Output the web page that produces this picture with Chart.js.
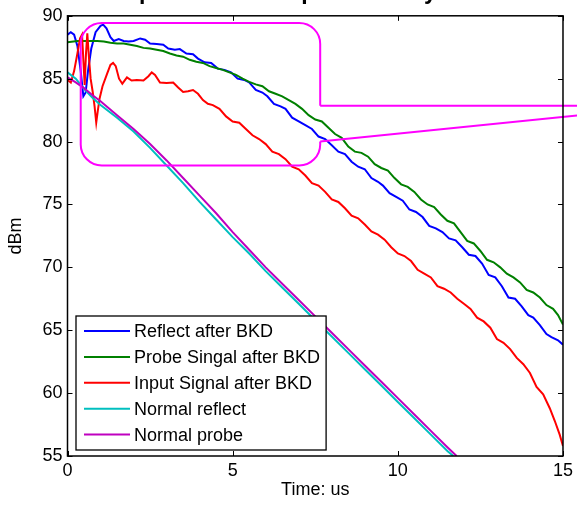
<!DOCTYPE html>
<html><head><meta charset="utf-8">
<script src="https://cdn.jsdelivr.net/npm/chart.js@4"></script>
<style>html,body{margin:0;padding:0;background:#fff;}</style>
</head><body>
<canvas id="c" width="577" height="505"></canvas>
<script>
const titleText = "Compared with the probe decay time";
const xTitle = "Time: us";
const yTitle = "dBm";
const xTicks = [0, 5, 10, 15];
const yTicks = [55, 60, 65, 70, 75, 80, 85, 90];
const seriesLabels = ["Reflect after BKD", "Probe Singal after BKD", "Input Signal after BKD", "Normal reflect", "Normal probe"];
const seriesColors = ["#0000ff", "#008000", "#ff0000", "#00bfbf", "#bf00bf"];

const reflectBKD = [[0,88.5],[0.1,88.7],[0.2,88.5],[0.3,87.6],[0.4,85.6],[0.48,83.6],[0.55,83.9],[0.62,85.6],[0.72,87.4],[0.85,88.7],[1.0,89.2],[1.08,89.3],[1.18,89.0],[1.3,88.3],[1.4,88.0],[1.55,88.15],[1.7,88.0],[1.85,87.95],[2.0,88.0],[2.2,88.2],[2.35,88.1],[2.5,87.8],[2.7,87.75],[2.9,87.7],[3.05,87.4],[3.25,87.3],[3.4,87.35],[3.6,87.0],[3.8,86.95],[3.95,86.6],[4.15,86.3],[4.35,86.25],[4.55,85.8],[4.75,85.7],[4.95,85.5],[5.15,85.0],[5.35,84.9],[5.5,84.7],[5.7,84.1],[5.9,83.9],[6.05,83.6],[6.25,83.0],[6.45,82.8],[6.6,82.6],[6.8,81.9],[7.0,81.6],[7.2,81.3],[7.4,81.0],[7.6,80.4],[7.8,80.2],[8.0,79.7],[8.2,79.2],[8.4,79.0],[8.6,78.4],[8.8,78.0],[9.0,77.8],[9.2,77.1],[9.4,76.8],[9.55,76.5],[9.75,75.9],[9.95,75.6],[10.15,75.3],[10.35,74.6],[10.55,74.4],[10.75,74.0],[10.95,73.3],[11.15,73.1],[11.35,72.8],[11.55,72.3],[11.75,72.15],[11.95,71.6],[12.15,71.0],[12.35,70.9],[12.55,70.3],[12.75,69.4],[12.95,69.2],[13.15,68.5],[13.35,67.6],[13.55,67.5],[13.75,66.9],[13.95,66.2],[14.1,66.0],[14.3,65.4],[14.5,64.7],[14.65,64.45],[14.85,64.2],[15,63.85]];

const probeBKD = [[0,87.9],[0.3,88.0],[0.6,88.0],[0.9,88.0],[1.1,87.95],[1.3,87.85],[1.5,87.8],[1.7,87.8],[1.9,87.7],[2.1,87.6],[2.3,87.45],[2.5,87.4],[2.7,87.3],[2.9,87.2],[3.1,87.0],[3.3,86.85],[3.5,86.75],[3.7,86.5],[3.9,86.35],[4.1,86.25],[4.3,86.0],[4.5,85.85],[4.7,85.7],[4.9,85.5],[5.1,85.3],[5.3,85.0],[5.5,84.75],[5.7,84.55],[5.9,84.4],[6.1,84.0],[6.3,83.8],[6.5,83.6],[6.7,83.3],[6.9,83.0],[7.1,82.6],[7.3,82.1],[7.5,81.75],[7.7,81.6],[7.9,81.1],[8.1,80.6],[8.3,80.3],[8.5,79.6],[8.7,79.2],[8.9,79.1],[9.1,78.8],[9.3,78.2],[9.5,77.9],[9.7,77.7],[9.9,77.1],[10.1,76.6],[10.3,76.4],[10.5,76.0],[10.7,75.4],[10.9,75.0],[11.1,74.8],[11.3,74.2],[11.5,73.7],[11.7,73.5],[11.9,72.8],[12.1,72.1],[12.3,71.9],[12.5,71.3],[12.7,70.6],[12.9,70.4],[13.1,70.0],[13.3,69.5],[13.5,69.2],[13.7,68.8],[13.9,68.2],[14.1,68.0],[14.3,67.6],[14.5,67.0],[14.7,66.7],[14.85,66.2],[15,65.45]];

const inputBKD = [[0,84.9],[0.1,84.7],[0.2,85.6],[0.3,87.0],[0.38,88.2],[0.44,88.5],[0.49,86.0],[0.52,84.5],[0.56,87.0],[0.6,88.6],[0.64,87.0],[0.7,85.0],[0.76,84.0],[0.82,82.8],[0.87,81.5],[0.92,82.5],[0.97,83.4],[1.06,84.4],[1.2,85.4],[1.3,86.1],[1.38,86.25],[1.46,86.0],[1.56,85.0],[1.66,84.6],[1.8,85.1],[1.94,84.85],[2.1,84.9],[2.3,84.85],[2.45,85.2],[2.55,85.5],[2.65,85.3],[2.8,84.7],[3.0,84.65],[3.2,84.7],[3.35,84.3],[3.5,83.95],[3.65,84.0],[3.8,84.1],[3.95,83.8],[4.1,83.3],[4.25,83.0],[4.4,82.9],[4.6,82.6],[4.8,82.0],[5.0,81.6],[5.2,81.5],[5.4,81.0],[5.6,80.5],[5.8,80.2],[6.0,79.8],[6.2,79.2],[6.4,79.0],[6.6,78.6],[6.8,78.0],[7.0,77.8],[7.2,77.3],[7.4,76.7],[7.6,76.5],[7.8,76.0],[8.0,75.4],[8.2,75.2],[8.4,74.7],[8.6,74.1],[8.8,73.9],[9.0,73.4],[9.2,72.85],[9.4,72.6],[9.6,72.2],[9.8,71.6],[10.0,71.1],[10.2,70.9],[10.4,70.5],[10.6,69.8],[10.8,69.5],[11.0,69.2],[11.2,68.5],[11.4,68.3],[11.6,68.0],[11.8,67.5],[12.0,67.1],[12.2,66.7],[12.4,66.0],[12.6,65.7],[12.8,65.2],[13.0,64.3],[13.2,64.0],[13.4,63.5],[13.6,62.8],[13.8,62.3],[14.0,61.6],[14.2,60.5],[14.4,59.9],[14.6,58.8],[14.75,57.8],[14.9,56.7],[15,55.8]];

const normalReflect = [[0,85.5],[0.25,85.0],[0.5,84.2],[0.75,83.5],[1.0,82.9],[1.5,81.9],[2.0,80.8],[2.5,79.5],[3.0,78.1],[3.5,76.7],[4.0,75.2],[4.5,73.8],[5.0,72.4],[5.5,71.1],[6.0,69.7],[6.5,68.4],[7.0,67.1],[7.5,65.8],[8.0,64.5],[8.5,63.2],[9.0,61.9],[9.5,60.6],[10.0,59.3],[10.5,58.0],[11.0,56.7],[11.5,55.4],[11.68,55.0]];

const normalProbe = [[0,85.1],[0.25,84.7],[0.5,84.25],[0.75,83.7],[1.0,83.2],[1.5,82.1],[2.0,81.0],[2.5,79.8],[3.0,78.5],[3.5,77.1],[4.0,75.7],[4.5,74.3],[5.0,72.8],[5.5,71.4],[6.0,70.0],[6.5,68.7],[7.0,67.4],[7.5,66.1],[8.0,64.8],[8.5,63.5],[9.0,62.2],[9.5,60.9],[10.0,59.6],[10.5,58.3],[11.0,57.0],[11.5,55.7],[11.78,55.0]];

// callout annotation, in data units (time, dBm)
const calloutBox = { x0: 0.4, x1: 7.65, y0: 78.1, y1: 89.43 };
const calloutLine1 = [[7.65, 82.84], [15.5, 82.84]];
const calloutLine2 = [[7.65, 80.0], [15.5, 82.1]];

const FONT = "'Liberation Sans', Arial, Helvetica, sans-serif";
const allSeries = [reflectBKD, probeBKD, inputBKD, normalReflect, normalProbe];

const datasets = allSeries.map((s, i) => ({
  label: seriesLabels[i],
  data: s.map(p => ({ x: p[0], y: p[1] })),
  borderColor: seriesColors[i],
  backgroundColor: seriesColors[i],
  borderWidth: 2,
  pointRadius: 0,
  tension: 0,
  fill: false,
  order: allSeries.length - i
}));

const framePlugin = {
  id: 'frame',
  beforeDraw(chart) {
    const ctx = chart.ctx;
    ctx.save();
    ctx.fillStyle = '#fff';
    ctx.fillRect(0, 0, chart.width, chart.height);
    ctx.restore();
  },
  afterDatasetsDraw(chart) {
    const ctx = chart.ctx;
    const a = chart.chartArea;
    ctx.save();
    ctx.font = "18px " + FONT;
    let maxW = 0;
    chart.data.datasets.forEach(d => { maxW = Math.max(maxW, ctx.measureText(d.label).width); });
    const bx = a.left + 8.5, rowH = 25.9;
    const bw = 58 + maxW + 6;
    const bh = 134;
    const by = a.bottom - 6 - bh;
    ctx.fillStyle = '#fff';
    ctx.fillRect(bx, by, bw, bh);
    ctx.strokeStyle = '#000';
    ctx.lineWidth = 1.3;
    ctx.strokeRect(bx, by, bw, bh);
    chart.data.datasets.forEach((d, i) => {
      const cy = by + 15 + i * rowH;
      ctx.strokeStyle = d.borderColor;
      ctx.lineWidth = 2;
      ctx.beginPath();
      ctx.moveTo(bx + 8, cy);
      ctx.lineTo(bx + 54, cy);
      ctx.stroke();
      ctx.fillStyle = '#000';
      ctx.textBaseline = 'middle';
      ctx.textAlign = 'left';
      ctx.fillText(d.label, bx + 58, cy + 1);
    });
    ctx.restore();
  },
  afterDraw(chart) {
    const ctx = chart.ctx;
    const a = chart.chartArea;
    const xs = chart.scales.x, ys = chart.scales.y;
    ctx.save();
    const L = xs.getPixelForValue(calloutBox.x0), R = xs.getPixelForValue(calloutBox.x1);
    const T = ys.getPixelForValue(calloutBox.y1), B = ys.getPixelForValue(calloutBox.y0);
    const r = 21;
    const l1y = ys.getPixelForValue(calloutLine1[0][1]);
    const l2y = ys.getPixelForValue(calloutLine2[0][1]);
    ctx.strokeStyle = '#ff00ff';
    ctx.lineWidth = 2;
    ctx.beginPath();
    ctx.moveTo(R, l1y);
    ctx.lineTo(R, T + r);
    ctx.arcTo(R, T, R - r, T, r);
    ctx.lineTo(L + r, T);
    ctx.arcTo(L, T, L, T + r, r);
    ctx.lineTo(L, B - r);
    ctx.arcTo(L, B, L + r, B, r);
    ctx.lineTo(R - r, B);
    ctx.arcTo(R, B, R, B - r, r);
    ctx.lineTo(R, l2y);
    ctx.stroke();
    ctx.beginPath();
    ctx.moveTo(xs.getPixelForValue(calloutLine1[0][0]), l1y);
    ctx.lineTo(xs.getPixelForValue(calloutLine1[1][0]), ys.getPixelForValue(calloutLine1[1][1]));
    ctx.moveTo(xs.getPixelForValue(calloutLine2[0][0]), l2y);
    ctx.lineTo(xs.getPixelForValue(calloutLine2[1][0]), ys.getPixelForValue(calloutLine2[1][1]));
    ctx.stroke();
    ctx.strokeStyle = '#000';
    ctx.lineWidth = 1.5;
    ctx.strokeRect(a.left, a.top, a.right - a.left, a.bottom - a.top);
    ctx.lineWidth = 1;
    const tl = 5;
    ctx.beginPath();
    xTicks.forEach(v => {
      const px = Math.round(xs.getPixelForValue(v)) + 0.5;
      ctx.moveTo(px, a.bottom); ctx.lineTo(px, a.bottom - tl);
      ctx.moveTo(px, a.top); ctx.lineTo(px, a.top + tl);
    });
    yTicks.forEach(v => {
      const py = Math.round(ys.getPixelForValue(v)) + 0.5;
      ctx.moveTo(a.left, py); ctx.lineTo(a.left + tl, py);
      ctx.moveTo(a.right, py); ctx.lineTo(a.right - tl, py);
    });
    ctx.stroke();
    // title, cropped at the top edge as in the reference: only descenders show
    ctx.fillStyle = '#000';
    ctx.font = "bold 23px " + FONT;
    ctx.textAlign = 'left';
    ctx.textBaseline = 'alphabetic';
    const pre = ctx.measureText("Com").width;
    ctx.fillText(titleText, 139 - pre, -1);
    ctx.restore();
  }
};

new Chart(document.getElementById('c'), {
  type: 'line',
  data: { datasets },
  options: {
    responsive: false,
    animation: false,
    devicePixelRatio: 1,
    layout: { padding: { left: 0, right: 12, top: 12, bottom: 0 } },
    plugins: { legend: { display: false }, tooltip: { enabled: false }, title: { display: false } },
    scales: {
      x: {
        type: 'linear', min: 0, max: 15,
        afterBuildTicks: s => { s.ticks = xTicks.map(v => ({ value: v })); },
        afterFit: s => { s.height = 49; },
        grid: { display: false, drawTicks: false },
        border: { display: false },
        ticks: { color: '#000', padding: 4, maxRotation: 0, autoSkip: false, font: { family: FONT, size: 18 } },
        title: { display: true, text: xTitle, color: '#000', font: { family: FONT, size: 18 }, padding: { top: 0, bottom: 4 } }
      },
      y: {
        type: 'linear', min: 55, max: 90,
        afterBuildTicks: s => { s.ticks = yTicks.map(v => ({ value: v })); },
        afterFit: s => { s.width = 67.5; },
        grid: { display: false, drawTicks: false },
        border: { display: false },
        ticks: { color: '#000', padding: 5, autoSkip: false, font: { family: FONT, size: 18 } },
        title: { display: true, text: yTitle, color: '#000', font: { family: FONT, size: 18 }, padding: { top: 5, bottom: 0 } }
      }
    }
  },
  plugins: [framePlugin]
});
</script>
</body></html>
